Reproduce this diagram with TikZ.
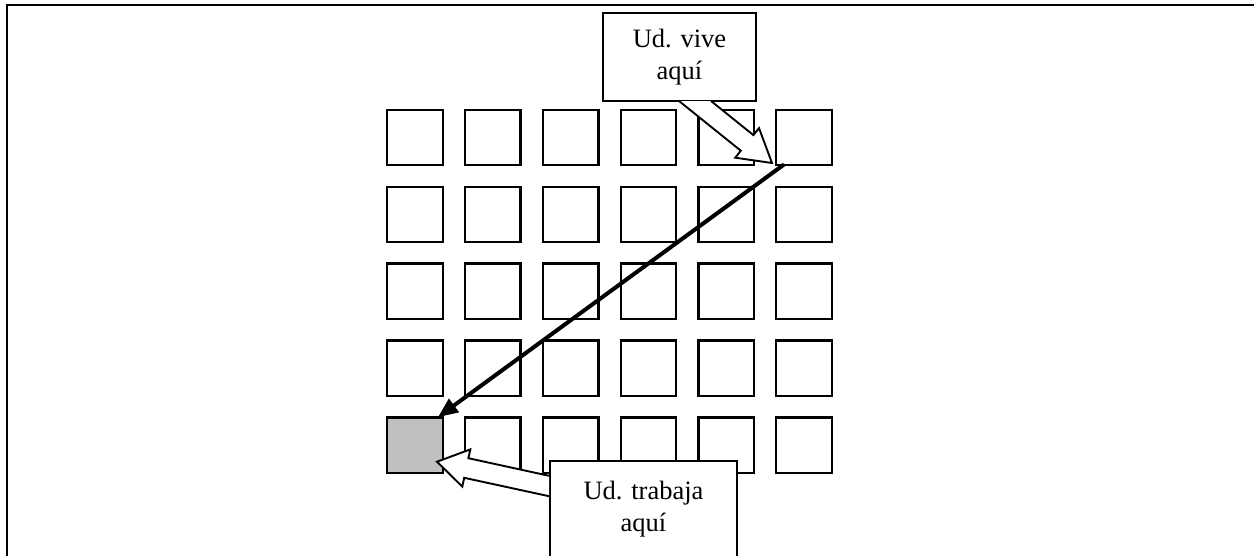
\documentclass[tikz,border=0pt]{standalone}
\usepackage{fontspec}
\setmainfont{Liberation Serif}
\usetikzlibrary{arrows.meta,calc}
\definecolor{cellgrey}{RGB}{192,192,192}
\tikzset{
  cell/.style={draw=black, line width=2.3pt, fill=white, minimum size=55.5pt, inner sep=0pt},
  callout/.style={draw=black, line width=1.9pt, fill=white, align=center, inner sep=0pt,
    font=\fontsize{26.5}{32}\selectfont},
  blockarrow/.style={draw=black, line width=1.9pt, fill=white, line join=miter},
  route/.style={draw=black, line width=4pt, -{Triangle[length=20pt,width=16pt]}}
}
\begin{document}
\begin{tikzpicture}[x=1pt,y=-1pt]
\useasboundingbox (0,0) rectangle (1254,555);
\clip (0,0) rectangle (1254,555);
% frame
\draw[line width=2.8pt] (7,560) -- (7,5) -- (1260,5);
% grid of blocks
\foreach \i in {0,...,5}{
  \foreach \j in {0,...,4}{
    \node[cell] (sq-\i-\j) at ({415+77.8*\i},{137.5+76.9*\j}) {};
  }
}
\node[cell, fill=cellgrey] at (sq-0-4) {};
% route arrow
\draw[route] ($(sq-5-0.south west)+(9,-2)$) -- ($(sq-0-4.north east)+(-6,1)$);
% callouts
\node[callout, minimum width=153pt, minimum height=88pt] (vive) at (679.5,57) {Ud. vive\\aquí};
\node[callout, minimum width=187pt, minimum height=96pt] (trabaja) at (643.5,509) {Ud. trabaja\\aquí};
% block arrows
\draw[blockarrow] (679,101) -- (740.8,150.7) -- (735.2,157.7) -- (772,163) -- (759.0,128.1) -- (753.4,135.1) -- (711,101);
\draw[blockarrow] (trabaja.west |- 0,475.8) -- (468.4,458.2) -- (470.3,449.4) -- (437,461.7) -- (462.3,486.6) -- (464.2,477.8) -- (trabaja.west |- 0,496.2);
\end{tikzpicture}
\end{document}
